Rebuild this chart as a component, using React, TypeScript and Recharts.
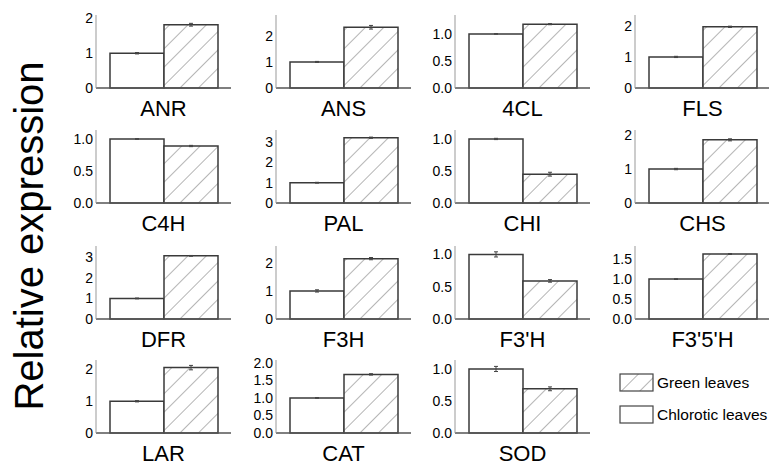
import React from 'react';
import { BarChart, Bar, XAxis, YAxis, ErrorBar } from 'recharts';

// genes in panel order (left to right, top to bottom)
const genes = ['ANR', 'ANS', '4CL', 'FLS', 'C4H', 'PAL', 'CHI', 'CHS', 'DFR', 'F3H', "F3'H", "F3'5'H", 'LAR', 'CAT', 'SOD'];
const chlorotic = [1, 1, 1, 1, 1, 1, 1, 1, 1, 1, 1, 1, 1, 1, 1];
const green = [1.82, 2.33, 1.18, 1.97, 0.89, 3.22, 0.45, 1.86, 3.07, 2.15, 0.59, 1.63, 2.06, 1.67, 0.69];
const chloroticErr = [0.02, 0.02, 0.005, 0.02, 0.005, 0.02, 0.01, 0.02, 0.02, 0.04, 0.04, 0.01, 0.02, 0.01, 0.04];
const greenErr = [0.04, 0.07, 0.01, 0.02, 0.01, 0.03, 0.03, 0.03, 0.02, 0.04, 0.02, 0.01, 0.07, 0.02, 0.03];
const yMax = [2.1, 2.8, 1.35, 2.35, 1.14, 3.6, 1.14, 2.15, 3.55, 2.6, 1.13, 1.83, 2.3, 2.08, 1.14];
const yTicks = [
  [0, 1, 2], [0, 1, 2], [0, 0.5, 1], [0, 1, 2],
  [0, 0.5, 1], [0, 1, 2, 3], [0, 0.5, 1], [0, 1, 2],
  [0, 1, 2, 3], [0, 1, 2], [0, 0.5, 1], [0, 0.5, 1, 1.5],
  [0, 1, 2], [0, 0.5, 1, 1.5, 2], [0, 0.5, 1],
];
const seriesNames = ['Green leaves', 'Chlorotic leaves'];
const yTitle = 'Relative expression';

// panel geometry
const colX = [96, 276, 455, 635];
const rowBase = [88, 203, 319, 433];
const PLOT_H = 73;
const PLOT_W = 135;
const Y_W = 40;
const TOP = 6;
const X_H = 36;

const FONT = "'Liberation Sans', Arial, sans-serif";

const Panel: React.FC<{ i: number }> = ({ i }) => {
  const col = i % 4;
  const row = Math.floor(i / 4);
  const data = [{
    name: genes[i],
    chlorotic: chlorotic[i],
    green: green[i],
    cErr: chloroticErr[i],
    gErr: greenErr[i],
  }];
  const decimals = yTicks[i].some((t) => t % 1 !== 0);

  return (
    <div style={{ position: 'absolute', left: colX[col] - Y_W, top: rowBase[row] - PLOT_H - TOP }}>
      <BarChart
        width={Y_W + PLOT_W + 4}
        height={TOP + PLOT_H + X_H}
        data={data}
        margin={{ top: TOP, right: 4, bottom: 0, left: 0 }}
        barGap={0}
        barCategoryGap={0}
      >
        <XAxis
          dataKey="name"
          axisLine={{ stroke: '#555', strokeWidth: 1.5 }}
          tickLine={false}
          tickSize={0}
          tickMargin={12}
          height={X_H}
          interval={0}
          tick={{ fontSize: 22, fill: '#000' }}
        />
        <YAxis
          width={Y_W}
          type="number"
          domain={[0, yMax[i]]}
          ticks={yTicks[i]}
          interval={0}
          tickFormatter={(v: number) => (decimals ? v.toFixed(1) : String(v))}
          axisLine={{ stroke: '#999', strokeWidth: 1 }}
          tickLine={false}
          tickSize={0}
          tickMargin={3}
          tick={{ fontSize: 14, fill: '#000' }}
        />
        <Bar dataKey="chlorotic" barSize={54} fill="#fff" stroke="#3a3a3a" strokeWidth={1.5} isAnimationActive={false}>
          <ErrorBar dataKey="cErr" width={2} stroke="#444" strokeWidth={1} direction="y" />
        </Bar>
        <Bar dataKey="green" barSize={54} fill="url(#hatch)" stroke="#3a3a3a" strokeWidth={1.5} isAnimationActive={false}>
          <ErrorBar dataKey="gErr" width={2} stroke="#444" strokeWidth={1} direction="y" />
        </Bar>
      </BarChart>
    </div>
  );
};

const App: React.FC = () => {
  return (
    <div style={{ position: 'absolute', left: 0, top: 0, width: 769, height: 467, background: '#fff', fontFamily: FONT }}>
      <svg width={0} height={0} style={{ position: 'absolute' }}>
        <defs>
          <pattern id="hatch" patternUnits="userSpaceOnUse" width={13} height={13} patternTransform="rotate(45)">
            <rect width={13} height={13} fill="#fff" />
            <line x1={0} y1={0} x2={0} y2={13} stroke="#777" strokeWidth={1.1} />
          </pattern>
        </defs>
      </svg>

      {genes.map((g, i) => <Panel key={g} i={i} />)}

      {/* y axis title */}
      <svg width={60} height={467} style={{ position: 'absolute', left: 0, top: 0 }}>
        <text transform="translate(43,236) rotate(-90)" textAnchor="middle" fontSize={40} fill="#000" fontFamily={FONT}>
          {yTitle}
        </text>
      </svg>

      {/* legend */}
      <svg width={160} height={70} style={{ position: 'absolute', left: 610, top: 365 }}>
        <rect x={10} y={9} width={33} height={17} fill="url(#hatch)" stroke="#444" strokeWidth={1.2} />
        <text x={47} y={23} fontSize={15.5} fill="#000" fontFamily={FONT}>{seriesNames[0]}</text>
        <rect x={10} y={41} width={33} height={17} fill="#fff" stroke="#444" strokeWidth={1.2} />
        <text x={47} y={55} fontSize={15.5} fill="#000" fontFamily={FONT}>{seriesNames[1]}</text>
      </svg>
    </div>
  );
};

export default App;
